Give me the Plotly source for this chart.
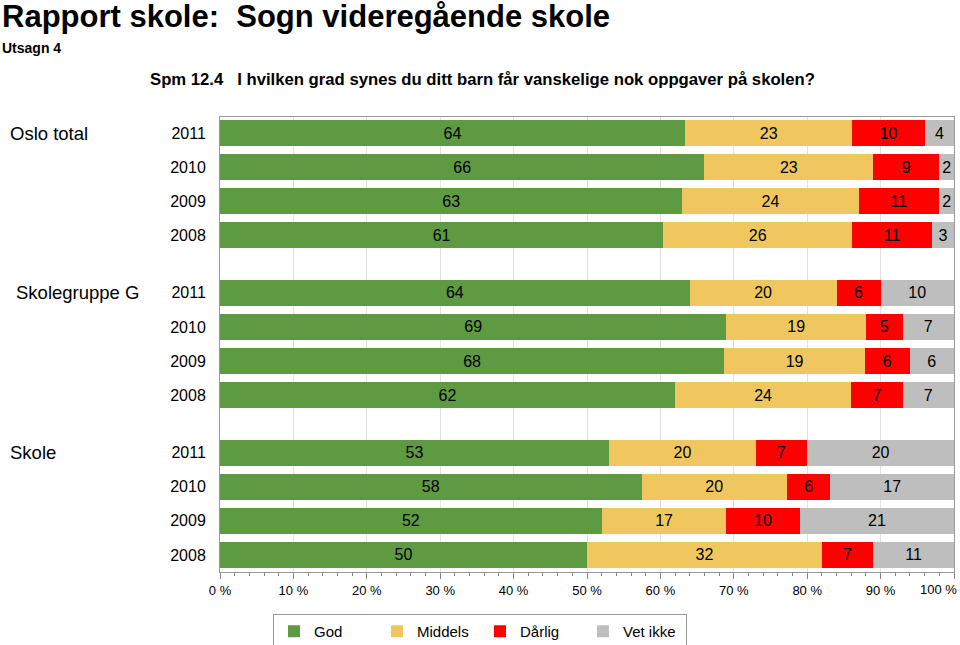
import plotly.graph_objects as go

groups = ["Oslo total", "Skolegruppe G", "Skole"]
years = ["2011", "2010", "2009", "2008"]
series = ["God", "Middels", "Dårlig", "Vet ikke"]

god = [64, 66, 63, 61, 64, 69, 68, 62, 53, 58, 52, 50]
middels = [23, 23, 24, 26, 20, 19, 19, 24, 20, 20, 17, 32]
darlig = [10, 9, 11, 11, 6, 5, 6, 7, 7, 6, 10, 7]
vet_ikke = [4, 2, 2, 3, 10, 7, 6, 7, 20, 17, 21, 11]

x_ticks = list(range(0, 101, 10))
x_ticklabels = [f"{v} %" for v in x_ticks]

colors = ["#5D9A41", "#EFC75E", "#FF0000", "#BEBEBE"]
values = [god, middels, darlig, vet_ikke]
totals = [sum(t) for t in zip(*values)]

gap = 1.68
ypos = []
ylab = []
for g in range(len(groups)):
    for i, yr in enumerate(years):
        ypos.append(g * (len(years) - 1 + gap) + i)
        ylab.append(yr)

font = "Liberation Sans, Arial, sans-serif"
fig = go.Figure()
for name, vals, col in zip(series, values, colors):
    share = [v / t * 100 for v, t in zip(vals, totals)]
    fig.add_trace(go.Bar(
        y=ypos, x=share, name=name, orientation="h",
        marker=dict(color=col, line=dict(width=0)),
        text=[str(v) for v in vals], textposition="inside",
        insidetextanchor="middle", textangle=0, constraintext="none",
        textfont=dict(color="black", size=16, family=font),
        width=0.76,
    ))

fig.update_layout(
    barmode="stack",
    width=960, height=645,
    margin=dict(l=220, r=6, t=117, b=73, autoexpand=False),
    plot_bgcolor="white", paper_bgcolor="white",
    font=dict(family=font, color="black"),
    showlegend=True,
    legend=dict(orientation="h", x=0.5, xanchor="center", xref="container",
                y=(645 - 614) / 645, yanchor="top", yref="container",
                bordercolor="#999999", borderwidth=1, font=dict(size=15),
                traceorder="normal", entrywidth=58),
    uniformtext=dict(mode=False),
)
fig.update_xaxes(
    range=[0, 100], tickvals=x_ticks,
    ticktext=x_ticklabels[:-1] + [""],
    ticks="outside", ticklen=6, tickcolor="#888888",
    minor=dict(tickvals=[v for v in range(0, 101, 2) if v % 10], ticks="outside", ticklen=3, tickcolor="#888888"),
    showgrid=True, gridcolor="#E2E2E2", gridwidth=1,
    showline=True, linecolor="#999999", mirror=True,
    tickfont=dict(size=13), zeroline=False, automargin=False,
)
# last tick label sits shifted inside the page edge, as in the reference
fig.add_annotation(text=x_ticklabels[-1], xref="x", yref="paper", x=x_ticks[-1], y=0,
                   xanchor="right", yanchor="top", xshift=5, yshift=-8,
                   showarrow=False, font=dict(size=13))

last = ypos[-1]
fig.update_yaxes(
    range=[last + 0.5, -0.47], tickvals=ypos, ticktext=ylab,
    ticks="", tickfont=dict(size=16), ticklabelstandoff=10,
    showgrid=False, showline=True, linecolor="#999999", mirror=True, zeroline=False,
    automargin=False,
)

label_x = [-0.289, -0.281, -0.289]
for g, name in enumerate(groups):
    fig.add_annotation(text=name, xref="paper", yref="y", x=label_x[g],
                       y=ypos[g * len(years)], xanchor="left", yanchor="middle",
                       showarrow=False, font=dict(size=18.5))

fig.add_annotation(text="<b>Rapport skole:  Sogn videregående skole</b>", xref="paper", yref="paper",
                   x=(0 - 220) / 734, y=(572 - 17) / 455, xanchor="left", yanchor="middle", showarrow=False,
                   font=dict(size=31))
fig.add_annotation(text="<b>Utsagn 4</b>", xref="paper", yref="paper",
                   x=(0 - 220) / 734, y=(572 - 48) / 455, xanchor="left", yanchor="middle", showarrow=False,
                   font=dict(size=14))
fig.add_annotation(text="<b>Spm 12.4   I hvilken grad synes du ditt barn får vanskelige nok oppgaver på skolen?</b>",
                   xref="paper", yref="paper",
                   x=(148 - 220) / 734, y=(572 - 79) / 455, xanchor="left", yanchor="middle", showarrow=False,
                   font=dict(size=16.7))

fig.write_html("out.html", config={"displayModeBar": False},
               post_script="document.body.style.margin='0';")
